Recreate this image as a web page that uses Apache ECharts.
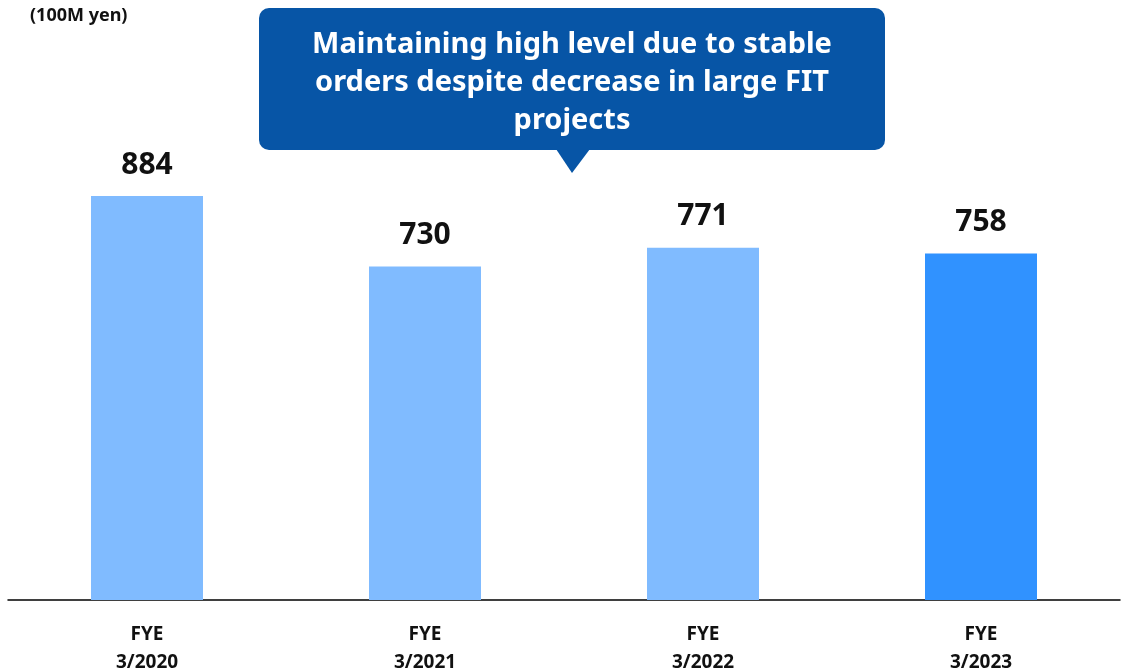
<!DOCTYPE html>
<html>
<head>
<meta charset="utf-8">
<script src="https://cdn.jsdelivr.net/npm/echarts@6/dist/echarts.min.js"></script>
<style>html,body{margin:0;padding:0;background:#fff}#c{width:1132px;height:672px}</style>
</head>
<body>
<div id="c"></div>
<script>
const categories = ['FYE\n3/2020', 'FYE\n3/2021', 'FYE\n3/2022', 'FYE\n3/2023'];
const values = [884, 730, 771, 758];
const barColors = ['#80BBFF', '#80BBFF', '#80BBFF', '#3092FF'];
const unitLabel = '(100M yen)';
const calloutText = 'Maintaining high level due to stable\norders despite decrease in large FIT\nprojects';

const FONT = '"Noto Sans", "Open Sans", sans-serif';
const chart = echarts.init(document.getElementById('c'));
chart.setOption({
  animation: false,
  grid: { left: 8, right: 12, top: 143, bottom: 72, containLabel: false, outerBoundsMode: 'none' },
  xAxis: {
    type: 'category',
    data: categories,
    axisLine: { show: true, lineStyle: { color: '#000', width: 1.5 } },
    axisTick: { show: false },
    axisLabel: { margin: 21, color: '#111', fontSize: 19, fontWeight: 'bold', fontFamily: FONT, lineHeight: 28 }
  },
  yAxis: { type: 'value', min: 0, max: 1000, show: false, splitLine: { show: false } },
  series: [{
    type: 'bar',
    barWidth: 112,
    data: values.map((v, i) => ({ value: v, itemStyle: { color: barColors[i] } })),
    label: { show: true, position: 'top', distance: 16, color: '#111', fontSize: 30, fontWeight: 'bold', fontFamily: FONT }
  }],
  graphic: [
    { type: 'text', left: 30, top: 7, style: { text: unitLabel, fill: '#111', font: 'bold 18px ' + FONT } },
    { type: 'rect', shape: { x: 259, y: 8, width: 626, height: 142, r: 10 }, style: { fill: '#0755A6' } },
    { type: 'polygon', shape: { points: [[556, 149], [590, 149], [572, 173]] }, style: { fill: '#0755A6' } },
    { type: 'text', x: 572, y: 83, style: { text: calloutText, fill: '#fff', font: 'bold 29px ' + FONT, align: 'center', verticalAlign: 'middle', lineHeight: 38 } }
  ]
});
</script>
</body>
</html>
